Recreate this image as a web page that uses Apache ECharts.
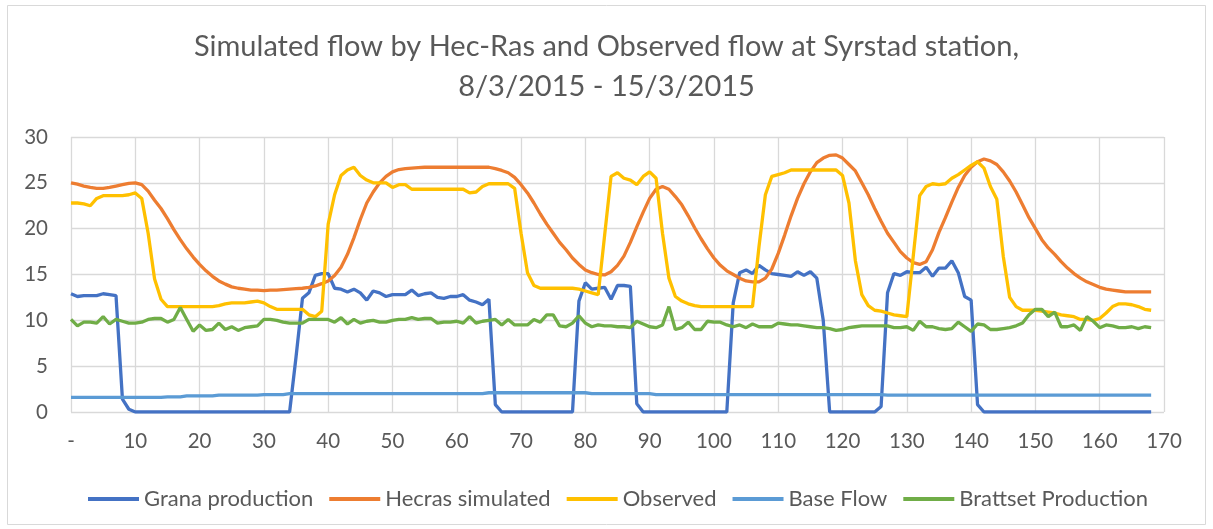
<!DOCTYPE html>
<html>
<head>
<meta charset="utf-8">
<title>Syrstad flow</title>
<script src="https://cdn.jsdelivr.net/npm/echarts@6/dist/echarts.min.js"></script>
<style>
  html, body { margin: 0; padding: 0; background: #fff; }
  #chart { width: 1213px; height: 529px; }
</style>
</head>
<body>
<div id="chart"></div>
<script>
// hourly values, hour 0 .. 168
const grana = [
  12.9,12.6,12.7,12.7,12.7,12.9,12.8,12.7,1.4,0.3,
  0,0,0,0,0,0,0,0,0,0,
  0,0,0,0,0,0,0,0,0,0,
  0,0,0,0,0,6.0,12.4,13.0,14.9,15.1,
  15.1,13.5,13.4,13.1,13.4,13.0,12.2,13.2,13.0,12.6,
  12.8,12.8,12.8,13.3,12.7,12.9,13.0,12.5,12.4,12.6,
  12.6,12.8,12.2,12.0,11.7,12.3,0.8,0,0,0,
  0,0,0,0,0,0,0,0,0,12.1,
  14.1,13.4,13.5,13.6,12.3,13.8,13.8,13.7,0.9,0,
  0,0,0,0,0,0,0,0,0,0,
  0,0,0,11.9,15.2,15.5,15.1,16.0,15.5,15.1,
  15.0,14.9,14.8,15.3,14.9,15.3,14.6,10.0,0,0,
  0,0,0,0,0,0,0.6,13.0,15.1,14.9,
  15.3,15.2,15.2,15.8,14.8,15.7,15.7,16.5,15.2,12.6,
  12.2,0.8,0,0,0,0,0,0,0,0,
  0,0,0,0,0,0,0,0,0,0,
  0,0,0,0,0,0,0,0,0
]
const hecras = [
  25.0,24.85,24.65,24.5,24.4,24.4,24.5,24.65,24.8,24.95,
  25.0,24.8,24.1,23.1,22.2,21.1,19.9,18.8,17.8,16.9,
  16.1,15.4,14.8,14.3,13.95,13.65,13.5,13.4,13.3,13.3,
  13.25,13.3,13.3,13.35,13.4,13.45,13.5,13.6,13.75,14.0,
  14.3,14.9,15.8,17.2,19.0,21.0,22.8,24.0,25.0,25.7,
  26.2,26.45,26.55,26.6,26.65,26.7,26.7,26.7,26.7,26.7,
  26.7,26.7,26.7,26.7,26.7,26.7,26.55,26.35,26.1,25.6,
  24.8,23.9,22.8,21.6,20.5,19.5,18.5,17.7,16.8,16.1,
  15.5,15.2,15.0,14.95,15.3,16.0,17.0,18.5,20.2,21.8,
  23.3,24.3,24.6,24.3,23.5,22.6,21.4,20.1,18.9,17.8,
  16.8,16.0,15.4,15.0,14.6,14.3,14.2,14.2,14.6,15.6,
  17.3,19.3,21.4,23.3,24.9,26.2,27.2,27.7,28.0,28.05,
  27.7,27.0,26.3,25.0,23.7,22.2,20.8,19.5,18.5,17.5,
  16.8,16.3,16.1,16.4,17.7,19.6,21.2,22.9,24.5,25.8,
  26.7,27.3,27.6,27.4,27.0,26.2,25.2,24.0,22.6,21.2,
  20.0,18.8,17.9,17.2,16.4,15.7,15.1,14.6,14.2,13.9,
  13.6,13.4,13.3,13.2,13.1,13.1,13.1,13.1,13.1
]
const observed = [
  22.8,22.8,22.7,22.5,23.3,23.6,23.6,23.6,23.6,23.7,
  23.9,23.3,19.5,14.5,12.3,11.5,11.5,11.5,11.5,11.5,
  11.5,11.5,11.5,11.6,11.8,11.9,11.9,11.9,12.0,12.1,
  11.9,11.5,11.2,11.2,11.2,11.2,11.2,10.6,10.4,11.0,
  20.5,23.7,25.8,26.4,26.7,25.8,25.3,25.0,25.0,25.0,
  24.5,24.8,24.8,24.3,24.3,24.3,24.3,24.3,24.3,24.3,
  24.3,24.3,23.9,24.0,24.6,24.9,24.9,24.9,24.9,24.4,
  19.5,15.2,13.8,13.5,13.5,13.5,13.5,13.5,13.5,13.4,
  13.2,13.0,12.8,19.3,25.7,26.1,25.5,25.3,24.8,25.7,
  26.2,25.5,19.5,14.6,12.6,12.1,11.8,11.6,11.5,11.5,
  11.5,11.5,11.5,11.5,11.5,11.5,11.5,18.0,23.7,25.7,
  25.9,26.1,26.4,26.4,26.4,26.4,26.4,26.4,26.4,26.4,
  25.8,22.8,16.5,12.8,11.6,11.1,11.0,10.8,10.6,10.5,
  10.4,17.0,23.6,24.6,24.9,24.8,24.9,25.5,25.9,26.4,
  26.9,27.3,26.6,24.6,23.2,17.0,12.5,11.5,11.1,11.1,
  11.1,11.0,10.9,10.8,10.6,10.5,10.4,10.1,10.1,10.0,
  10.2,10.8,11.5,11.8,11.8,11.7,11.5,11.2,11.1
]
const baseFlow = [
  1.6,1.6,1.6,1.6,1.6,1.6,1.6,1.6,1.6,1.6,
  1.6,1.6,1.6,1.6,1.6,1.65,1.65,1.65,1.75,1.75,
  1.75,1.75,1.75,1.85,1.85,1.85,1.85,1.85,1.85,1.85,
  1.9,1.9,1.9,1.9,2.0,2.0,2.0,2.0,2.0,2.0,
  2.0,2.0,2.0,2.0,2.0,2.0,2.0,2.0,2.0,2.0,
  2.0,2.0,2.0,2.0,2.0,2.0,2.0,2.0,2.0,2.0,
  2.0,2.0,2.0,2.0,2.0,2.1,2.1,2.1,2.1,2.1,
  2.1,2.1,2.1,2.1,2.1,2.1,2.1,2.1,2.1,2.1,
  2.1,2.0,2.0,2.0,2.0,2.0,2.0,2.0,2.0,2.0,
  2.0,1.9,1.9,1.9,1.9,1.9,1.9,1.9,1.9,1.9,
  1.9,1.9,1.9,1.9,1.9,1.9,1.9,1.9,1.9,1.9,
  1.9,1.9,1.9,1.9,1.9,1.9,1.9,1.9,1.9,1.9,
  1.9,1.9,1.9,1.9,1.9,1.9,1.9,1.85,1.85,1.85,
  1.85,1.85,1.85,1.85,1.85,1.85,1.85,1.85,1.85,1.85,
  1.85,1.85,1.85,1.85,1.85,1.85,1.85,1.85,1.85,1.85,
  1.85,1.85,1.85,1.85,1.85,1.85,1.85,1.85,1.85,1.85,
  1.85,1.85,1.85,1.85,1.85,1.85,1.85,1.85,1.85
]
const brattset = [
  10.1,9.4,9.8,9.8,9.7,10.4,9.6,10.1,9.9,9.7,
  9.7,9.8,10.1,10.2,10.2,9.8,10.1,11.4,10.1,8.8,
  9.5,8.9,9.0,9.7,9.0,9.3,8.9,9.2,9.3,9.4,
  10.1,10.1,10.0,9.8,9.7,9.7,9.7,10.1,10.1,10.1,
  10.1,9.8,10.3,9.6,10.1,9.7,9.9,10.0,9.8,9.8,
  10.0,10.1,10.1,10.3,10.1,10.2,10.2,9.7,9.8,9.8,
  9.9,9.7,10.4,9.7,9.9,10.0,10.1,9.5,10.1,9.5,
  9.5,9.5,10.1,9.8,10.6,10.6,9.4,9.3,9.7,10.5,
  9.7,9.3,9.5,9.4,9.4,9.3,9.3,9.2,9.9,9.6,
  9.3,9.2,9.5,11.5,9.0,9.2,9.8,9.0,9.0,9.9,
  9.8,9.8,9.5,9.3,9.5,9.2,9.6,9.3,9.3,9.3,
  9.7,9.6,9.5,9.5,9.4,9.3,9.2,9.2,9.1,8.9,
  9.0,9.2,9.3,9.4,9.4,9.4,9.4,9.4,9.2,9.2,
  9.3,8.9,9.9,9.3,9.3,9.1,9.0,9.1,9.8,9.3,
  8.8,9.6,9.5,9.0,9.0,9.1,9.2,9.4,9.7,10.6,
  11.2,11.2,10.4,10.9,9.3,9.3,9.5,8.9,10.4,9.9,
  9.2,9.5,9.4,9.2,9.2,9.3,9.1,9.3,9.2
]
const seriesNames = ['Grana production', 'Hecras simulated', 'Observed', 'Base Flow', 'Brattset Production']
const seriesColors = ['#4472C4', '#ED7D31', '#FFC000', '#5B9BD5', '#70AD47']
const titleText = 'Simulated flow by Hec-Ras and Observed flow at Syrstad station,\n8/3/2015 - 15/3/2015'

function drawChart(){
    let box = document.querySelector('#chart')
    let myChart = echarts.init(box, null, {renderer: 'canvas'})
    let font = 'Lato, "Open Sans", sans-serif'
    let allData = [grana, hecras, observed, baseFlow, brattset]
    let option = {
        animation: false,
        backgroundColor: '#fff',
        color: seriesColors,
        title: {
            text: titleText,
            left: 'center',
            top: 22,
            textStyle: {
                fontFamily: font,
                fontSize: 29,
                fontWeight: 'normal',
                color: '#595959',
                lineHeight: 40
            }
        },
        grid: {
            left: 71,
            right: 49,
            top: 137,
            bottom: 117
        },
        legend: {
            left: 83,
            top: 483,
            icon: 'rect',
            itemWidth: 51,
            itemHeight: 4,
            itemGap: 16,
            textStyle: {
                fontFamily: font,
                fontSize: 22,
                color: '#595959'
            },
            data: seriesNames
        },
        xAxis: {
            type: 'value',
            min: 0,
            max: 170,
            interval: 10,
            axisLine: { show: false },
            axisTick: { show: false },
            splitLine: { lineStyle: { color: '#d9d9d9', width: 1.3 } },
            axisLabel: {
                margin: 19,
                fontFamily: font,
                fontSize: 20.5,
                color: '#595959',
                formatter: function(v){ return v === 0 ? '-' : String(v) }
            }
        },
        yAxis: {
            type: 'value',
            min: 0,
            max: 30,
            interval: 5,
            axisLine: { show: false },
            axisTick: { show: false },
            splitLine: { lineStyle: { color: '#d9d9d9', width: 1.3 } },
            axisLabel: {
                margin: 23,
                fontFamily: font,
                fontSize: 20.5,
                color: '#595959'
            }
        },
        graphic: [{
            type: 'rect',
            shape: { x: 7.5, y: 5.5, width: 1198, height: 519 },
            style: { fill: null, stroke: '#d9d9d9', lineWidth: 1 },
            silent: true
        }],
        series: seriesNames.map(function(name, k){
            return {
                name: name,
                type: 'line',
                showSymbol: false,
                symbol: 'none',
                lineStyle: { width: 3.3, color: seriesColors[k] },
                itemStyle: { color: seriesColors[k] },
                data: allData[k].map(function(v, h){ return [h, v] })
            }
        })
    }
    myChart.setOption(option)
}
drawChart()
</script>
</body>
</html>
